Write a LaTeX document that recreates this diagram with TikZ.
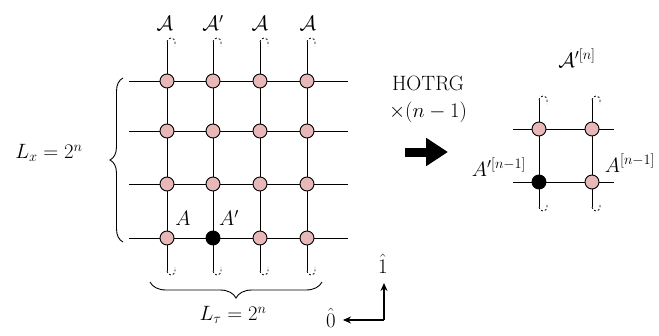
\documentclass[tikz,border=0pt]{standalone}
\usepackage{amsmath,amssymb}
\usepackage{xcolor}
\usepackage{tikz}
\usetikzlibrary{positioning,arrows.meta,calc,decorations.pathreplacing}
\definecolor{sitepink}{RGB}{232,184,184}
\tikzset{
  site/.style={circle,draw,fill=sitepink,inner sep=0pt,minimum size=14pt},
  bsite/.style={circle,draw,fill=black,inner sep=0pt,minimum size=14pt},
  pbc/.style={dash pattern=on 2pt off 2pt,line width=0.8pt},
  bracedeco/.style={decorate,decoration={brace,amplitude=#1}}
}

\begin{document}
\begin{tikzpicture}[x=1pt,y=-1pt,line width=0.9pt,every node/.style={font=\huge}]
\useasboundingbox (0,0) rectangle (659,335);
% lattice of 4x4 sites
\foreach \i/\x in {1/167,2/213,3/260,4/307}{
  \foreach \j/\y in {1/81,2/131,3/184,4/238}{
    \ifnum\i\j=24 \node[bsite] (s\i\j) at (\x,\y) {};
    \else \node[site] (s\i\j) at (\x,\y) {};
    \fi
  }
  \coordinate (top\i) at (\x,42);
  \coordinate (bot\i) at (\x,271);
}
\foreach \j/\y in {1/81,2/131,3/184,4/238}{
  \coordinate (le\j) at (129,\y);
  \coordinate (re\j) at (348,\y);
  \draw (le\j) -- (s1\j) -- (s2\j) -- (s3\j) -- (s4\j) -- (re\j);
}
\foreach \i in {1,...,4}{
  \draw (top\i) -- (s\i1) -- (s\i2) -- (s\i3) -- (s\i4) -- (bot\i);
  \draw[pbc] (top\i) arc[start angle=180,end angle=360,radius=4] -- ++(0,4);
  \draw[pbc] (bot\i) arc[start angle=180,end angle=0,radius=4] -- ++(0,-4);
}
\node (ta1) at (165,23) {$\mathcal{A}$};
\node (ta2) at (213,23) {$\mathcal{A}'$};
\node (ta3) at (260,23) {$\mathcal{A}$};
\node (ta4) at (308,23) {$\mathcal{A}$};
\node (la) at (183,218) {$A$};
\node (lap) at (229,218) {$A'$};
% braces
\coordinate (lb1) at (123,242);
\coordinate (lb2) at (123,78);
\draw[bracedeco=13pt] (lb1) -- (lb2);
\node (lx) at (49,153) {$L_x = 2^n$};
\coordinate (bb1) at (322,282);
\coordinate (bb2) at (150,282);
\draw[bracedeco=16pt] (bb1) -- (bb2);
\node (lt) at (233,315) {$L_\tau = 2^n$};
% coarse graining step
\node (hotrg) at (428,83) {HOTRG};
\node (times) at (428,112) {$\times(n-1)$};
\coordinate (ha) at (405,152);
\coordinate (hb) at (448,152);
\draw[line width=9pt,-{Triangle[length=22pt,width=27pt]}] (ha) -- (hb);
% renormalized 2x2 lattice
\node[site] (r11) at (539,129) {};
\node[site] (r21) at (592,129) {};
\node[bsite] (r12) at (539,182) {};
\node[site] (r22) at (592,182) {};
\foreach \j/\y in {1/129,2/182}{
  \coordinate (rle\j) at (513,\y);
  \coordinate (rre\j) at (614,\y);
  \draw (rle\j) -- (r1\j) -- (r2\j) -- (rre\j);
}
\foreach \i/\x in {1/539,2/592}{
  \coordinate (rtop\i) at (\x,100);
  \coordinate (rbot\i) at (\x,207);
  \draw (rtop\i) -- (r\i1) -- (r\i2) -- (rbot\i);
  \draw[pbc] (rtop\i) arc[start angle=180,end angle=360,radius=4] -- ++(0,4);
  \draw[pbc] (rbot\i) arc[start angle=180,end angle=0,radius=4] -- ++(0,-4);
}
\node (an) at (577,58) {$\mathcal{A}'^{[n]}$};
\node (anl) at (499,167) {$A'^{[n-1]}$};
\node (anr) at (630,163) {$A^{[n-1]}$};
% axes
\coordinate (ax0) at (384,320);
\coordinate (ax1) at (384,283);
\coordinate (ax2) at (343,320);
\draw[line width=1.3pt,-{Stealth[length=8pt,width=7pt]}] (ax0) -- (ax1);
\draw[line width=1.3pt,-{Stealth[length=8pt,width=7pt]}] (ax0) -- (ax2);
\node (e1) at (383,264) {$\hat{1}$};
\node (e0) at (331,318) {$\hat{0}$};
\end{tikzpicture}
\end{document}
